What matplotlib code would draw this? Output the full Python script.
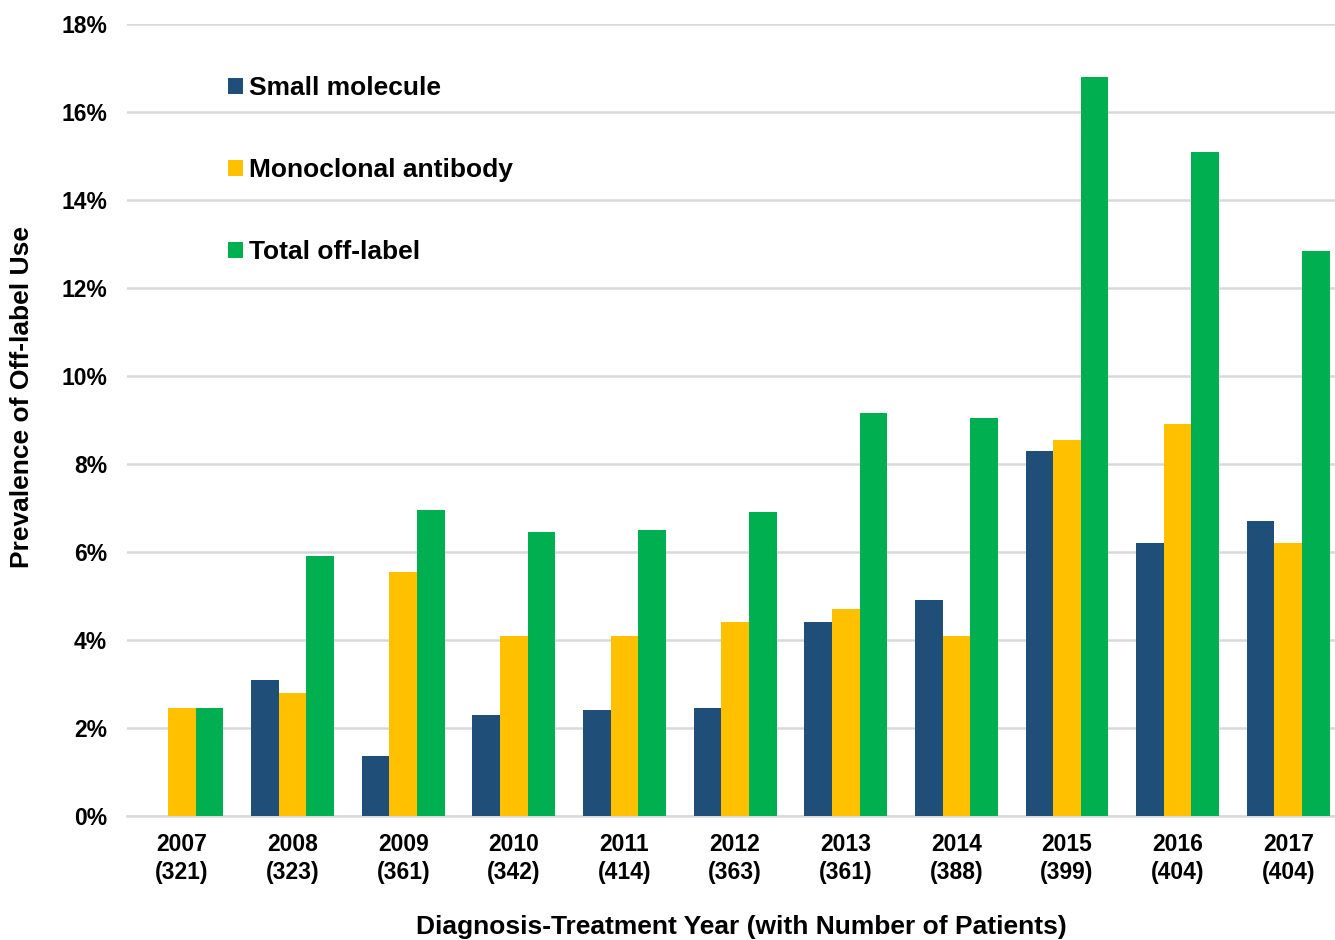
import matplotlib
matplotlib.use("Agg")
import matplotlib.pyplot as plt
import numpy as np

years = ["2007", "2008", "2009", "2010", "2011", "2012", "2013", "2014", "2015", "2016", "2017"]
patients = ["321", "323", "361", "342", "414", "363", "361", "388", "399", "404", "404"]
small_molecule = [0.0, 3.1, 1.37, 2.3, 2.4, 2.45, 4.4, 4.9, 8.3, 6.2, 6.7]
monoclonal = [2.45, 2.8, 5.55, 4.1, 4.1, 4.4, 4.7, 4.1, 8.55, 8.9, 6.2]
total = [2.45, 5.9, 6.95, 6.45, 6.5, 6.9, 9.15, 9.05, 16.8, 15.1, 12.85]
series_names = ["Small molecule", "Monoclonal antibody", "Total off-label"]
colors = ["#1f4e79", "#ffc000", "#00b050"]

plt.rcParams['font.family'] = ['Liberation Sans', 'DejaVu Sans']
plt.rcParams['font.weight'] = 'bold'

fig = plt.figure(figsize=(13.35, 9.4), dpi=100)
ax = fig.add_axes([126.6/1335, 124/940, 1217/1335, 792/940])

x = np.arange(len(years))
w = 0.25
handles = []
for i, (vals, c, name) in enumerate(zip([small_molecule, monoclonal, total], colors, series_names)):
    b = ax.bar(x + (i - 1) * w, vals, width=w, color=c, label=name, zorder=3)
    handles.append(b)

ax.set_xlim(-0.5, len(years) - 0.5)
ax.set_ylim(0, 18)
ax.set_yticks(np.arange(0, 19, 2))
ax.set_yticklabels([f"{v}%" for v in range(0, 19, 2)], fontsize=16.5, fontweight='bold')
ax.set_xticks(x)
ax.set_xticklabels([f"{y}\n({p})" for y, p in zip(years, patients)], fontsize=16.5,
                   fontweight='bold', linespacing=1.3)
ax.tick_params(axis='x', length=0, pad=12)
ax.tick_params(axis='y', length=0, pad=14)
ax.grid(axis='y', color='#d9d9d9', linewidth=1.8, zorder=0)
for s in ['top', 'right', 'left']:
    ax.spines[s].set_visible(False)
ax.spines['bottom'].set_color('#d9d9d9')
ax.spines['bottom'].set_linewidth(1.8)

ax.set_xlabel("Diagnosis-Treatment Year (with Number of Patients)", fontsize=19, fontweight='bold')
ax.xaxis.set_label_coords((741-126.6)/1217, -(927-816)/792)
ax.xaxis.label.set_va('center')
ax.set_ylabel("Prevalence of Off-label Use", fontsize=19, fontweight='bold')
ax.yaxis.set_label_coords(-(126.6-22)/1217, (816-397)/792)
ax.yaxis.label.set_va('center')

leg = ax.legend(handles=handles, labels=series_names, loc='upper left',
                bbox_to_anchor=(228/1335, 1-76/940), bbox_transform=fig.transFigure,
                frameon=False, prop={'weight': 'bold', 'size': 19},
                handlelength=0.55, handleheight=0.55, handletextpad=0.25,
                labelspacing=2.2, borderpad=0, borderaxespad=0)

fig.savefig("out.png", dpi=100, facecolor='white')
